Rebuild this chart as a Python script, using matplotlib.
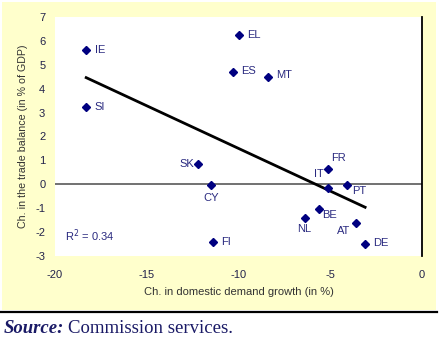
import numpy as np
import matplotlib
matplotlib.use("Agg")
from matplotlib import pyplot as plt
from matplotlib.patches import Rectangle
from matplotlib.lines import Line2D

# country codes and values
countries = ['IE', 'SI', 'EL', 'ES', 'MT', 'SK', 'CY', 'FI',
             'FR', 'IT', 'PT', 'BE', 'NL', 'AT', 'DE']
demand_growth = [-18.3, -18.3, -10.0, -10.3, -8.4, -12.2, -11.5, -11.4,
                 -5.1, -5.1, -4.1, -5.6, -6.4, -3.6, -3.1]
trade_balance = [5.6, 3.25, 6.25, 4.7, 4.5, 0.85, -0.05, -2.4,
                 0.65, -0.15, -0.05, -1.05, -1.4, -1.6, -2.5]
x_ticks = [-20, -15, -10, -5, 0]
y_ticks = [-3, -2, -1, 0, 1, 2, 3, 4, 5, 6, 7]
r2_label = 'R$^2$ = 0.34'

# label placement (offset in points, alignment)
label_pos = {
    'IE': (6, 0, 'left'), 'SI': (6, 0, 'left'), 'EL': (6, 0, 'left'),
    'ES': (6, 1, 'left'), 'MT': (6, 1, 'left'), 'SK': (-3, 0, 'right'),
    'CY': (0, -9, 'center'), 'FI': (6, 0, 'left'), 'FR': (2, 8, 'left'),
    'IT': (-3, 10, 'right'), 'PT': (4, -4, 'left'), 'BE': (2, -4, 'left'),
    'NL': (0, -8, 'center'), 'AT': (-4, -6, 'right'), 'DE': (6, 1, 'left'),
}

plt.rcParams['font.family'] = ['Liberation Sans', 'DejaVu Sans']
plt.rcParams['axes.unicode_minus'] = False

W, H = 440, 339
fig = plt.figure(figsize=(W / 100, H / 100), dpi=100)
fig.patch.set_facecolor('white')

# pale yellow panel behind the chart
fig.patches.append(Rectangle((2 / W, (H - 310) / H), 434 / W, 308 / H,
                             transform=fig.transFigure, facecolor='#FFFFCC',
                             edgecolor='none', zorder=-5))
fig.lines.append(Line2D([0, 437 / W], [(H - 311.5) / H] * 2,
                        transform=fig.transFigure, color='black', lw=1.6))

ax = fig.add_axes([55 / W, (H - 256) / H, 367 / W, 239 / H])
ax.set_zorder(2)
ax.set_facecolor('white')
ax.set_xlim(-20, 0)
ax.set_ylim(-3, 7)
for s in ['left', 'top', 'bottom']:
    ax.spines[s].set_visible(False)
ax.spines['right'].set_color('black')
ax.spines['right'].set_linewidth(1.3)

ax.set_xticks(x_ticks)
ax.set_yticks(y_ticks)
ax.tick_params(axis='x', length=0, pad=10, labelsize=8, labelcolor='#22224a')
ax.tick_params(axis='y', length=0, pad=7, labelsize=8, labelcolor='#22224a')

ax.axhline(0, color='#666666', lw=1.3, zorder=1)

ax.plot(demand_growth, trade_balance, 'D', color='#000080', ms=3.8, zorder=3)

# linear fit
slope, intercept = np.polyfit(demand_growth, trade_balance, 1)
xs = np.array([min(demand_growth), max(demand_growth)])
ax.plot(xs, slope * xs + intercept, color='black', lw=2, zorder=2)

for c, x, y in zip(countries, demand_growth, trade_balance):
    dx, dy, ha = label_pos[c]
    ax.annotate(c, (x, y), xytext=(dx, dy), textcoords='offset points',
                ha=ha, va='center', fontsize=8, color='#2a2a80')

ax.text(0.027, 0.085, r2_label, transform=ax.transAxes, ha='left',
        va='center', fontsize=8, color='#2a2a80')

ax.set_xlabel('Ch. in domestic demand growth (in %)', fontsize=8,
              color='#333333', labelpad=5)
ax.set_ylabel('Ch. in the trade balance (in % of GDP)', fontsize=7.7,
              color='#333333', labelpad=5)

# source note
src = fig.text(4 / W, (H - 333) / H, 'Source:', fontsize=13.5,
               family='Liberation Serif', weight='bold', style='italic',
               color='#1a1a66', ha='left', va='baseline')
fig.canvas.draw()
bb = src.get_window_extent()
fig.text((bb.x1 + 4) / W, (H - 333) / H, 'Commission services.',
         fontsize=13.5, family='Liberation Serif', color='#1a1a66',
         ha='left', va='baseline')

plt.savefig('out.png', dpi=100)
